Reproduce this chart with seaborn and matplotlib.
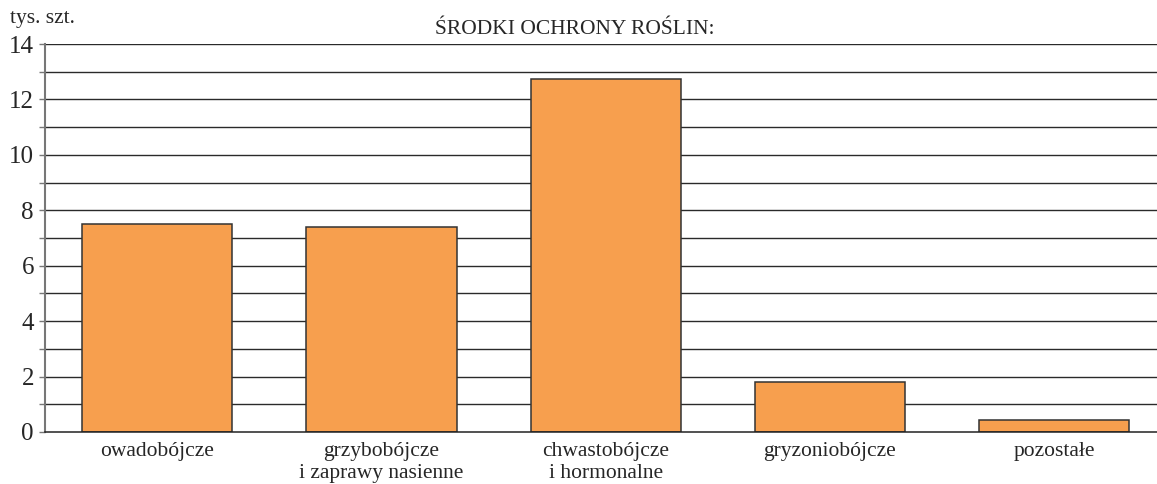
import pandas as pd
import numpy as np
import seaborn as sns
import matplotlib
matplotlib.use("Agg")
import matplotlib.pyplot as plt

categories = ['owadobójcze', 'grzybobójcze\ni zaprawy nasienne', 'chwastobójcze\ni hormonalne',
              'gryzoniobójcze', 'pozostałe']
values = [7.5, 7.4, 12.75, 1.8, 0.45]

sns.set_style("white")
plt.rcParams['font.family'] = ['Liberation Serif', 'DejaVu Serif']

df = pd.DataFrame({'kat': categories, 'val': values})

fig = plt.figure(figsize=(11.57, 4.84), dpi=100)
ax = fig.add_axes([45 / 1157, 1 - 432 / 484, (1157 - 45) / 1157, 388 / 484])

# linie siatki za słupkami
for v in range(1, 15):
    ax.axhline(v, color='#2a2a2a', lw=1.0, zorder=0)

sns.barplot(data=df, x='kat', y='val', color='#F79F4E', width=0.67, saturation=1,
            edgecolor='#333333', linewidth=1.1, ax=ax, zorder=2)

ax.set_ylim(0, 14)
ax.set_xlim(-0.5, 4.458)
ax.set_yticks(range(0, 15, 2))
ax.set_yticks(range(1, 15, 2), minor=True)
ax.tick_params(axis='y', which='both', length=4, width=1, color='#777777', direction='out',
               labelsize=18, pad=4, left=True)
ax.tick_params(axis='x', length=0, labelsize=15.5, pad=7)
for lbl in ax.get_xticklabels():
    lbl.set_linespacing(1.2)
ax.set_xlabel('')
ax.set_ylabel('')
for s in ['top', 'right']:
    ax.spines[s].set_visible(False)
ax.spines['left'].set_color('#777777')
ax.spines['left'].set_linewidth(1.5)
ax.spines['bottom'].set_color('#222222')
ax.spines['bottom'].set_linewidth(1.1)

fig.text(10 / 1157, 1 - 19 / 484, 'tys. szt.', fontsize=15.5, va='center', ha='left')
fig.text(575 / 1157, 1 - 29 / 484, 'ŚRODKI OCHRONY ROŚLIN:', fontsize=15.5, va='center', ha='center')

fig.savefig('out.png', dpi=100)
